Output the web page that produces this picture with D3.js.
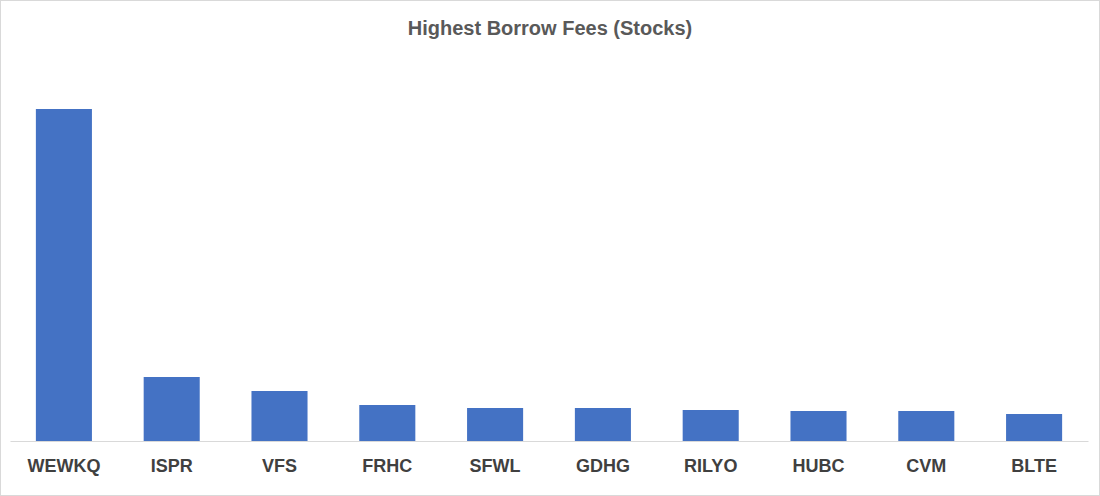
<!DOCTYPE html>
<html><head><meta charset="utf-8">
<script src="https://cdn.jsdelivr.net/npm/d3@7"></script>
<style>body{margin:0;background:#fff}</style>
</head><body><div id="chart"></div>
<script>
const tickers = ["WEWKQ","ISPR","VFS","FRHC","SFWL","GDHG","RILYO","HUBC","CVM","BLTE"];
const fees = [332, 64, 50, 36, 33, 33, 31, 30, 30, 27];

const width = 1100, height = 496;
const margin = {top: 60, left: 10, bottom: 55, right: 12};
const iwidth = width - margin.left - margin.right;
const iheight = height - margin.top - margin.bottom;

const svg = d3.select("#chart").append("svg").attr("width", width).attr("height", height);
svg.append("rect").attr("x", 0.5).attr("y", 0.5).attr("width", width - 1).attr("height", height - 1)
  .attr("fill", "#fff").attr("stroke", "#d9d9d9");

svg.append("text").attr("x", width / 2).attr("y", 35).attr("text-anchor", "middle")
  .style("font", "bold 20px 'Liberation Sans', Arial, sans-serif").attr("fill", "#595959")
  .text("Highest Borrow Fees (Stocks)");

const g = svg.append("g").attr("transform", `translate(${margin.left},${margin.top})`);

const x = d3.scaleBand().domain(tickers).range([0, iwidth]).paddingInner(0.48).paddingOuter(0.24);
const y = d3.scaleLinear().domain([0, 381]).range([iheight, 0]);

g.selectAll("rect.bar").data(tickers).enter().append("rect")
  .attr("class", "bar").attr("fill", "#4472c4")
  .attr("x", d => x(d)).attr("width", x.bandwidth())
  .attr("y", (d, i) => y(fees[i])).attr("height", (d, i) => iheight - y(fees[i]));

const ax = g.append("g").attr("transform", `translate(0,${iheight})`)
  .call(d3.axisBottom(x).tickSize(0).tickPadding(18));
ax.select(".domain").attr("stroke", "#d9d9d9");
ax.selectAll("text").style("font", "bold 18px 'Liberation Sans', Arial, sans-serif").attr("fill", "#404040");
</script></body></html>
